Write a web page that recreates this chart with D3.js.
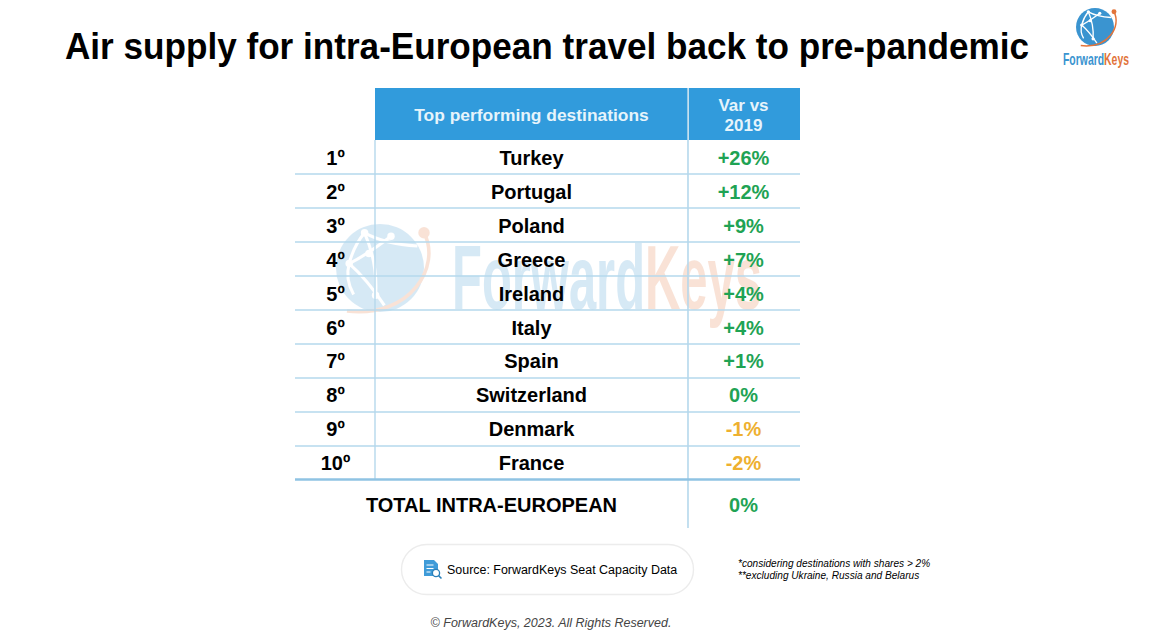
<!DOCTYPE html>
<html><head><meta charset="utf-8">
<script src="https://cdn.jsdelivr.net/npm/d3@7"></script>
<style>html,body{margin:0;padding:0;background:#fff}svg{display:block;font-family:"Liberation Sans",Arial,sans-serif}</style>
</head><body><svg id="c" width="1152" height="640"></svg>
<script>
const ranks=["1º","2º","3º","4º","5º","6º","7º","8º","9º","10º"];
const destinations=["Turkey","Portugal","Poland","Greece","Ireland","Italy","Spain","Switzerland","Denmark","France"];
const variation=[26,12,9,7,4,4,1,0,-1,-2];
const totalLabel="TOTAL INTRA-EUROPEAN";
const totalValue=0;
const headers=["Top performing destinations","Var vs","2019"];
const title="Air supply for intra-European travel back to pre-pandemic";

const svg=d3.select("#c");
const fmt=v=>(v>0?"+":"")+v+"%";
const col=v=>v>=0?"#1fa354":"#eeb02f";
const y=d3.scaleBand().domain(ranks).range([140,480]);
const base=d3.scalePoint().domain(ranks).range([165,470.2]);
const X={l:295,a:375,b:688,r:800};
const LINE="#b5d8ec";

function logo(g,cx,cy,r,op){
  const o=g.append("g").attr("opacity",op);
  const blue="#3a94d0",orange="#e2743a";
  o.append("circle").attr("cx",cx).attr("cy",cy).attr("r",r).attr("fill",blue);
  const P=(a,b)=>[cx+a*r,cy+b*r];
  const curves=[
    [[-.35,-.8],[.1,-.55],[.85,-.5]],
    [[-.35,-.8],[-.6,-.5],[-.7,-.1]],
    [[-.7,-.1],[-.3,-.3],[.25,-.72]],
    [[-.7,-.1],[-.3,.25],[.1,.85]],
    [[-.35,-.8],[-.05,-.1],[-.1,.62]],
    [[-.7,-.1],[-.8,.25],[-.6,.6]]
  ];
  curves.forEach(c=>o.append("path").attr("d",`M${P(...c[0])} Q${P(...c[1])} ${P(...c[2])}`)
    .attr("fill","none").attr("stroke","#fff").attr("stroke-width",r*.07));
  [[-.35,-.8],[.25,-.72],[-.7,-.1],[-.1,.62],[-.25,-.33]].forEach(n=>
    o.append("circle").attr("cx",P(...n)[0]).attr("cy",P(...n)[1]).attr("r",r*.085).attr("fill","#fff"));
  const a=P(1,-.8),b=P(-.75,.98);
  o.append("path").attr("d",`M${a} C${P(1.4,-.05)} ${P(.7,1.15)} ${b}`).attr("fill","none").attr("stroke",orange).attr("stroke-width",r*.08);
  o.append("circle").attr("cx",a[0]).attr("cy",a[1]).attr("r",r*.13).attr("fill",orange);
}
function word(g,x,yy,size,op){
  const t=g.append("text").attr("x",x).attr("y",yy).attr("font-size",size).attr("font-weight","bold")
    .attr("font-family","'Liberation Sans Narrow','Liberation Sans',sans-serif").attr("opacity",op);
  t.append("tspan").attr("fill","#3a94d0").text("Forward");
  t.append("tspan").attr("fill","#e2743a").text("Keys");
  return t;
}

// watermark
const wm=svg.append("g");
logo(wm,380,268,44,.2);
word(wm,452,309,90,.2).attr("textLength",310).attr("lengthAdjust","spacingAndGlyphs");

// title
svg.append("text").attr("x",65).attr("y",59).attr("font-size",36).attr("font-weight","bold").attr("fill","#000")
  .attr("textLength",964).attr("lengthAdjust","spacingAndGlyphs").text(title);

// logo top right
logo(svg.append("g"),1095,27,19,1);
word(svg,1063,65,17,1).attr("textLength",66).attr("lengthAdjust","spacingAndGlyphs");

// header
svg.append("rect").attr("x",X.a).attr("y",88).attr("width",X.b-X.a).attr("height",52).attr("fill","#319bdc");
svg.append("rect").attr("x",X.b+1).attr("y",88).attr("width",X.r-X.b-1).attr("height",52).attr("fill","#319bdc");
const hc=svg.append("g").attr("fill","#e6f4fb").attr("font-weight","bold").attr("text-anchor","middle");
hc.append("text").attr("x",531.5).attr("y",121).attr("font-size",17.4).text(headers[0]);
hc.append("text").attr("x",743.5).attr("y",111).attr("font-size",17).text(headers[1]);
hc.append("text").attr("x",743.5).attr("y",131).attr("font-size",17).text(headers[2]);

// grid
ranks.slice(0,9).forEach(r=>svg.append("line").attr("x1",X.l).attr("x2",X.r)
  .attr("y1",y(r)+y.bandwidth()).attr("y2",y(r)+y.bandwidth()).attr("stroke",LINE).attr("stroke-width",1.4));
svg.append("line").attr("x1",X.a).attr("x2",X.a).attr("y1",140).attr("y2",480).attr("stroke",LINE).attr("stroke-width",1.4);
svg.append("line").attr("x1",X.b).attr("x2",X.b).attr("y1",88).attr("y2",528).attr("stroke",LINE).attr("stroke-width",1.6);
svg.append("line").attr("x1",X.l).attr("x2",X.r).attr("y1",479.5).attr("y2",479.5).attr("stroke","#8fc3e3").attr("stroke-width",2.6);

// rows
const rows=svg.append("g").selectAll("g").data(ranks).join("g")
  .attr("font-weight","bold").attr("font-size",20).attr("text-anchor","middle");
rows.append("text").attr("x",335.5).attr("y",d=>base(d)).attr("fill","#000").text(d=>d);
rows.append("text").attr("x",531.5).attr("y",d=>base(d)).attr("fill","#000").text((d,i)=>destinations[i]);
rows.append("text").attr("x",743.5).attr("y",d=>base(d)).attr("fill",(d,i)=>col(variation[i])).text((d,i)=>fmt(variation[i]));

// total
svg.append("text").attr("x",491.5).attr("y",512).attr("text-anchor","middle").attr("font-weight","bold").attr("font-size",20).attr("fill","#000").text(totalLabel);
svg.append("text").attr("x",743.5).attr("y",512).attr("text-anchor","middle").attr("font-weight","bold").attr("font-size",20).attr("fill",col(totalValue)).text(fmt(totalValue));

// source pill
svg.append("rect").attr("x",401.5).attr("y",544.5).attr("width",292).attr("height",50).attr("rx",25).attr("fill","#fff").attr("stroke","#ececec").attr("stroke-width",1.4);
const ic=svg.append("g");
ic.append("path").attr("d","M424,560 h10 l4,4 v12 h-14 z").attr("fill","#3f9bd8");
ic.append("path").attr("d","M426.5,565 h7 M426.5,568.5 h7 M426.5,572 h4").attr("stroke","#fff").attr("stroke-width",1.2);
ic.append("circle").attr("cx",436).attr("cy",573).attr("r",3.6).attr("fill","#fff").attr("stroke","#2a7fb8").attr("stroke-width",1.3);
ic.append("line").attr("x1",438.6).attr("y1",575.6).attr("x2",441.5).attr("y2",578.5).attr("stroke","#2a7fb8").attr("stroke-width",1.5);
svg.append("text").attr("x",447).attr("y",573.5).attr("font-size",12.45).attr("fill","#000").text("Source: ForwardKeys Seat Capacity Data");

// notes
const n=svg.append("g").attr("font-size",10.1).attr("font-style","italic").attr("fill","#000");
n.append("text").attr("x",738).attr("y",567).text("*considering destinations with shares > 2%");
n.append("text").attr("x",738).attr("y",579).text("**excluding Ukraine, Russia and Belarus");

svg.append("text").attr("x",551).attr("y",627).attr("text-anchor","middle").attr("font-size",12.5).attr("font-style","italic").attr("fill","#444").text("© ForwardKeys, 2023. All Rights Reserved.");
</script></body></html>
